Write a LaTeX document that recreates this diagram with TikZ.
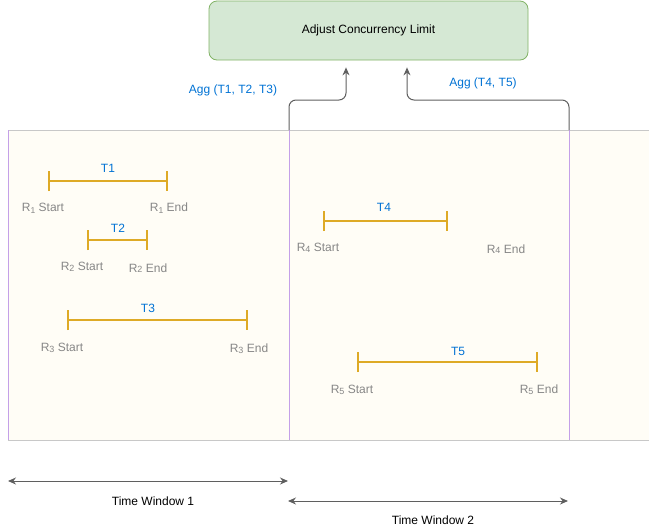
\documentclass[tikz,border=0pt]{standalone}
\usepackage{fontspec}
\setmainfont{Liberation Sans}
\usetikzlibrary{arrows.meta}
\definecolor{gold}{RGB}{222,170,38}
\definecolor{lblgrey}{RGB}{135,135,135}
\definecolor{aggblue}{RGB}{0,114,212}
\definecolor{cream}{RGB}{255,253,246}
\definecolor{winpurple}{RGB}{196,160,232}
\definecolor{bordergrey}{RGB}{200,200,200}
\definecolor{conngrey}{RGB}{95,95,95}
\definecolor{boxgreen}{RGB}{213,232,212}
\definecolor{boxstroke}{RGB}{130,179,102}
\newcommand\rlow[1]{\raisebox{-0.35ex}{\fontsize{8.5}{8.5}\selectfont #1}}
\newcommand\rsm[1]{\raisebox{-0.1ex}{\fontsize{9}{9}\selectfont #1}}
\begin{document}
\begin{tikzpicture}[x=1pt,y=-1pt,
  every node/.style={font=\fontsize{12}{14}\selectfont, inner sep=0pt},
  interval/.style={draw=gold, line width=2.2pt, {Bar[width=20pt,line width=2.2pt]}-{Bar[width=20pt,line width=2.2pt]}},
  tlabel/.style={text=aggblue},
  rlabel/.style={text=lblgrey},
  conn/.style={draw=conngrey, line width=1pt, rounded corners=7pt, -{Stealth[length=8pt,width=7pt]}},
  twarrow/.style={draw=conngrey, line width=1pt, {Stealth[length=8pt,width=7pt]}-{Stealth[length=8pt,width=7pt]}},
  adjbox/.style={draw=boxstroke, fill=boxgreen, rounded corners=8pt, line width=0.8pt, minimum width=319pt, minimum height=59pt}
]
\useasboundingbox (0,0) rectangle (649,531);
% background
\fill[cream] (8,130) rectangle (649,440);
\draw[bordergrey, line width=1pt] (8,130) -- (649,130);
\draw[bordergrey, line width=1pt] (8,440) -- (649,440);
\draw[winpurple, line width=1pt] (8,130) -- (8,440);
\draw[winpurple, line width=1pt] (289,130) -- (289,440);
\draw[winpurple, line width=1pt] (569,130) -- (569,440);
\coordinate (w1top) at (289,130);
\coordinate (w2top) at (569,130);

% top box
\node[adjbox] (adj) at (368.5,30.5) {Adjust Concurrency Limit};

% connectors
\draw[conn] (w1top) -- (289,100) -- (346,100) -- ([yshift=-7pt]adj.south -| 346,0);
\draw[conn] (w2top) -- (569,100) -- (407,100) -- ([yshift=-7pt]adj.south -| 407,0);
\node[tlabel] (agg1) at (233,90) {Agg (T1, T2, T3)};
\node[tlabel] (agg2) at (483,83) {Agg (T4, T5)};

% intervals window 1
\coordinate (t1a) at (48,181); \coordinate (t1b) at (168,181);
\draw[interval] (t1a) -- (t1b);
\node[tlabel] (t1) at (108,168) {T1};
\node[rlabel] (r1s) at (43,208) {R\rlow{1} Start};
\node[rlabel] (r1e) at (169,208) {R\rlow{1} End};

\coordinate (t2a) at (87,240); \coordinate (t2b) at (148,240);
\draw[interval] (t2a) -- (t2b);
\node[tlabel] (t2) at (118,228) {T2};
\node[rlabel] (r2s) at (82,267) {R\rsm{2} Start};
\node[rlabel] (r2e) at (148,268) {R\rsm{2} End};

\coordinate (t3a) at (67,320); \coordinate (t3b) at (248,320);
\draw[interval] (t3a) -- (t3b);
\node[tlabel] (t3) at (148,308) {T3};
\node[rlabel] (r3s) at (62,348) {R\rsm{3} Start};
\node[rlabel] (r3e) at (249,349) {R\rsm{3} End};

% intervals window 2
\coordinate (t4a) at (323,221); \coordinate (t4b) at (448,221);
\draw[interval] (t4a) -- (t4b);
\node[tlabel] (t4) at (384,207) {T4};
\node[rlabel] (r4s) at (318,248) {R\rsm{4} Start};
\node[rlabel] (r4e) at (506,249) {R\rsm{4} End};

\coordinate (t5a) at (357,362); \coordinate (t5b) at (538,362);
\draw[interval] (t5a) -- (t5b);
\node[tlabel] (t5) at (458,351) {T5};
\node[rlabel] (r5s) at (352,390) {R\rsm{5} Start};
\node[rlabel] (r5e) at (539,390) {R\rsm{5} End};

% time windows
\coordinate (tw1a) at (8,481); \coordinate (tw1b) at (288,481);
\draw[twarrow] (tw1a) -- (tw1b);
\node (tw1) at (153,501) {Time Window 1};
\coordinate (tw2a) at (288,501); \coordinate (tw2b) at (568,501);
\draw[twarrow] (tw2a) -- (tw2b);
\node (tw2) at (433,520) {Time Window 2};
\end{tikzpicture}
\end{document}
